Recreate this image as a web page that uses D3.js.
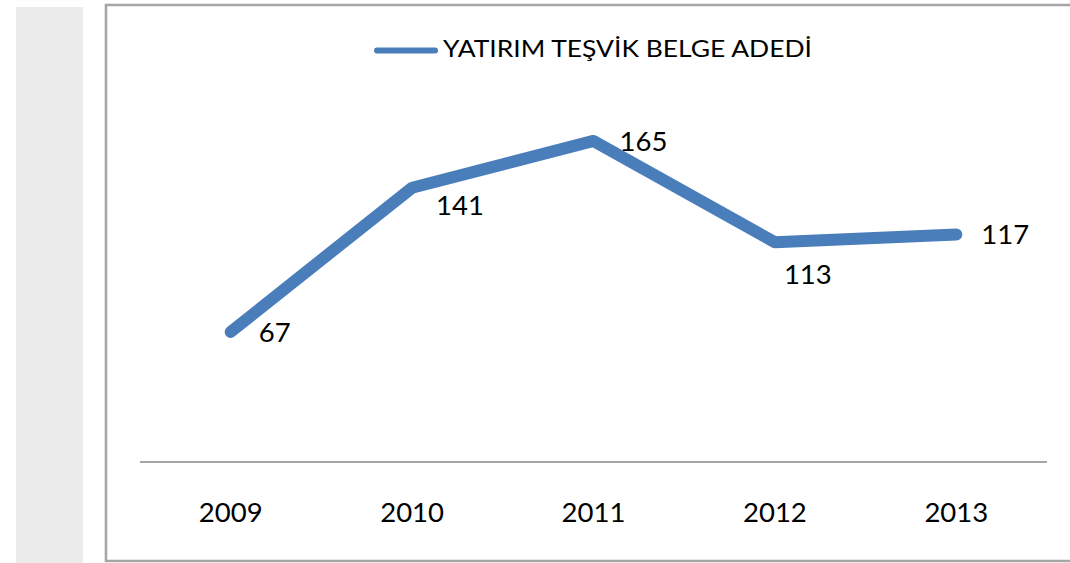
<!DOCTYPE html>
<html><head><meta charset="utf-8">
<script src="https://cdn.jsdelivr.net/npm/d3@7"></script>
<style>html,body{margin:0;padding:0;background:#fff;}svg{display:block;}</style>
</head><body>
<svg id="c" width="1070" height="563"></svg>
<script>
const years = ["2009","2010","2011","2012","2013"];
const values = [67, 141, 165, 113, 117];
const seriesName = "YATIRIM TEŞVİK BELGE ADEDİ";
// label placement per point
const labelPlace = ["right","below","right","below","right"];
const labelShift = [[28,10],[24,27],[26,10],[9,42],[25,10]];

const svg = d3.select("#c");
const font = "Lato, 'Open Sans', sans-serif";

svg.append("rect").attr("x",16).attr("y",7).attr("width",67).attr("height",556).attr("fill","#ebebeb");
svg.append("path").attr("d","M1075,5 H106 V561 H1075").attr("fill","none").attr("stroke","#a6a6a6").attr("stroke-width",2.6);

const x = d3.scaleBand().domain(years).range([140,1047]);
const y = d3.scaleLinear().domain([0,200]).range([462.5, 462.5-200*1.949]);

svg.append("line").attr("x1",140).attr("x2",1047).attr("y1",462).attr("y2",462)
  .attr("stroke","#a6a6a6").attr("stroke-width",2);

svg.append("g").selectAll("text").data(years).join("text")
  .attr("x",d=>x(d)+x.bandwidth()/2).attr("y",522)
  .attr("text-anchor","middle").attr("font-family",font).attr("font-size",27.5).attr("fill","#000")
  .text(d=>d);

const line = d3.line().x((d,i)=>x(years[i])+x.bandwidth()/2).y(d=>y(d));
svg.append("path").datum(values).attr("d",line).attr("fill","none")
  .attr("stroke","#4a7ebb").attr("stroke-width",12).attr("stroke-linecap","round").attr("stroke-linejoin","round");

svg.append("g").selectAll("text").data(values).join("text")
  .attr("x",(d,i)=>x(years[i])+x.bandwidth()/2+labelShift[i][0])
  .attr("y",(d,i)=>y(d)+labelShift[i][1])
  .attr("font-family",font).attr("font-size",27.5).attr("fill","#000")
  .text(d=>d);

svg.append("line").attr("x1",377).attr("x2",435).attr("y1",50.5).attr("y2",50.5)
  .attr("stroke","#4a7ebb").attr("stroke-width",6).attr("stroke-linecap","round");
svg.append("text").attr("x",443).attr("y",57).attr("font-family",font).attr("font-size",23).attr("fill","#000")
  .attr("textLength",369).attr("lengthAdjust","spacingAndGlyphs").text(seriesName);
</script>
</body></html>
